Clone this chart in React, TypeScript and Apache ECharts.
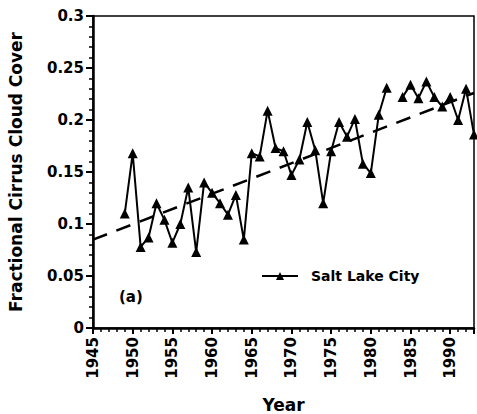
import React, { useEffect, useRef } from "react";
import * as echarts from "echarts";

const years = [
  1949, 1950, 1951, 1952, 1953, 1954, 1955, 1956, 1957, 1958, 1959, 1960,
  1961, 1962, 1963, 1964, 1965, 1966, 1967, 1968, 1969, 1970, 1971, 1972,
  1973, 1974, 1975, 1976, 1977, 1978, 1979, 1980, 1981, 1982, 1983, 1984,
  1985, 1986, 1987, 1988, 1989, 1990, 1991, 1992, 1993,
];
const cirrus: (number | null)[] = [
  0.110, 0.168, 0.078, 0.087, 0.120, 0.104, 0.082, 0.100, 0.135, 0.073, 0.140, 0.130,
  0.120, 0.109, 0.128, 0.085, 0.168, 0.165, 0.209, 0.173, 0.170, 0.147, 0.162, 0.198,
  0.171, 0.120, 0.170, 0.198, 0.184, 0.201, 0.158, 0.149, 0.205, 0.231, null, 0.222,
  0.234, 0.221, 0.237, 0.222, 0.213, 0.222, 0.200, 0.230, 0.186,
];
const trendYears = [1945, 1993];
const trendValues = [0.085, 0.226];
const yTicks = [0, 0.05, 0.1, 0.15, 0.2, 0.25, 0.3];

const FONT = "'DejaVu Sans', 'Liberation Sans', Arial, sans-serif";

export default function App() {
  const ref = useRef<HTMLDivElement>(null);
  useEffect(() => {
    if (!ref.current) return;
    const chart = echarts.init(ref.current, undefined, { renderer: "svg" });
    chart.setOption({
      animation: false,
      backgroundColor: "#fff",
      textStyle: { fontFamily: FONT },
      grid: {
        left: 93,
        top: 16,
        right: 3,
        bottom: 86,
        containLabel: false,
        outerBoundsMode: "none",
        show: true,
        borderColor: "#000",
        borderWidth: 1.5,
        backgroundColor: "transparent",
      },
      legend: {
        left: 256,
        top: 264,
        itemWidth: 36,
        itemHeight: 10,
        itemGap: 10,
        data: [{ name: "Salt Lake City" }],
        textStyle: {
          fontFamily: FONT,
          fontWeight: "bold",
          fontSize: 14,
          color: "#000",
          padding: [0, 0, 0, 8],
        },
      },
      xAxis: {
        type: "value",
        min: 1945,
        max: 1993,
        interval: 5,
        name: "Year",
        nameLocation: "middle",
        nameGap: 68,
        nameTextStyle: {
          fontFamily: FONT,
          fontWeight: "bold",
          fontSize: 17,
          color: "#000",
        },
        axisLine: { show: true, lineStyle: { color: "#000", width: 2.5 } },
        axisTick: { show: true, length: 6, inside: false, lineStyle: { color: "#000", width: 2 } },
        minorTick: { show: true, splitNumber: 5, length: 4, lineStyle: { color: "#000", width: 1.5 } },
        splitLine: { show: false },
        axisLabel: {
          rotate: 90,
          margin: 9,
          fontFamily: FONT,
          fontWeight: "bold",
          fontSize: 15,
          color: "#000",
          formatter: (v: number) => (v % 5 === 0 ? String(v) : ""),
        },
      },
      yAxis: {
        type: "value",
        min: 0,
        max: 0.3,
        interval: 0.05,
        name: "Fractional Cirrus Cloud Cover",
        nameLocation: "middle",
        nameGap: 69,
        nameTextStyle: {
          fontFamily: FONT,
          fontWeight: "bold",
          fontSize: 17,
          color: "#000",
        },
        axisLine: { show: true, lineStyle: { color: "#000", width: 2.5 } },
        axisTick: { show: true, length: 7, lineStyle: { color: "#000", width: 2 } },
        minorTick: { show: true, splitNumber: 5, length: 4, lineStyle: { color: "#000", width: 1.5 } },
        splitLine: { show: false },
        axisLabel: {
          margin: 9,
          fontFamily: FONT,
          fontWeight: "bold",
          fontSize: 15,
          color: "#000",
          formatter: (v: number) => {
            const t = yTicks.find((y) => Math.abs(y - v) < 1e-9);
            return t === undefined ? "" : String(t);
          },
        },
      },
      series: [
        {
          name: "Salt Lake City",
          type: "line",
          data: years.map((y, i) => [y, cirrus[i]]),
          connectNulls: false,
          symbol: "triangle",
          symbolSize: 10,
          itemStyle: { color: "#000" },
          lineStyle: { color: "#000", width: 2 },
          clip: false,
        },
        {
          name: "trend",
          type: "line",
          data: trendYears.map((y, i) => [y, trendValues[i]]),
          symbol: "none",
          lineStyle: { color: "#000", width: 2.5, type: [15, 10] },
          z: 1,
        },
      ],
      graphic: [
        {
          type: "text",
          left: 119,
          top: 289,
          style: {
            text: "(a)",
            fontFamily: FONT,
            fontWeight: "bold",
            fontSize: 15,
            fill: "#000",
          },
        },
      ],
    });
    return () => chart.dispose();
  }, []);
  return <div ref={ref} style={{ width: 477, height: 414, position: "absolute", left: 0, top: 0 }} />;
}
